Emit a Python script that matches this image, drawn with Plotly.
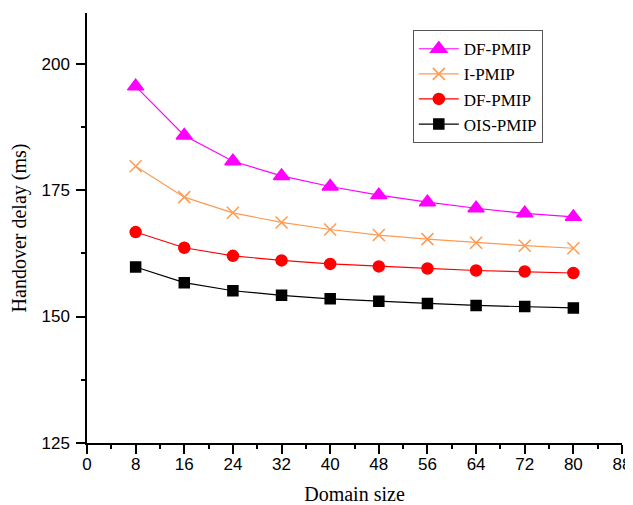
import plotly.graph_objects as go

domain_size = [8, 16, 24, 32, 40, 48, 56, 64, 72, 80]
df_pmip_a = [195.5, 185.8, 180.7, 177.8, 175.7, 174.0, 172.6, 171.4, 170.4, 169.7]
i_pmip = [179.7, 173.6, 170.5, 168.6, 167.2, 166.1, 165.3, 164.6, 164.0, 163.5]
df_pmip_b = [166.7, 163.6, 162.0, 161.1, 160.4, 159.9, 159.5, 159.1, 158.9, 158.6]
ois_pmip = [159.8, 156.7, 155.1, 154.2, 153.5, 153.0, 152.6, 152.2, 152.0, 151.7]

series = [
    ("DF-PMIP", df_pmip_a, "#FF00FF", "triangle-up", 14),
    ("I-PMIP", i_pmip, "#FF9A50", "x-thin", 12),
    ("DF-PMIP", df_pmip_b, "#FF0000", "circle", 11),
    ("OIS-PMIP", ois_pmip, "#000000", "square", 10),
]

fig = go.Figure()
for name, vals, color, sym, size in series:
    fig.add_trace(go.Scatter(
        x=domain_size, y=vals, name=name, mode="lines+markers",
        line=dict(color=color, width=1.2),
        marker=dict(symbol=sym, size=size, color=color,
                    line=dict(color=color, width=1.5)),
    ))

# page body has an 8px default margin, so the figure is shrunk by 8px
fig.update_layout(
    width=625, height=497,
    margin=dict(l=79, r=11, t=5, b=62, autoexpand=False),
    paper_bgcolor="white", plot_bgcolor="white",
    showlegend=True,
    legend=dict(x=0.609, y=0.96, xanchor="left", yanchor="top",
                bgcolor="white", bordercolor="#555555", borderwidth=1,
                font=dict(family="Liberation Serif", size=17, color="black"),
                tracegroupgap=0, itemwidth=40),
    xaxis=dict(range=[0, 88], dtick=8, tick0=0, showgrid=False, zeroline=False,
               automargin=False,
               showline=True, linecolor="black", linewidth=1.5,
               ticks="outside", ticklen=9, tickwidth=1.5, tickcolor="black",
               ticklabelstandoff=-4,
               minor=dict(dtick=4, ticks="outside", ticklen=4, tickwidth=1.5, tickcolor="black"),
               tickfont=dict(family="Liberation Sans", size=17, color="black"),
               title=dict(text="Domain size", font=dict(family="Liberation Serif", size=20, color="black"), standoff=14)),
    yaxis=dict(range=[125, 210], dtick=25, tick0=125, showgrid=False, zeroline=False,
               automargin=False,
               showline=True, linecolor="black", linewidth=1.5,
               ticks="outside", ticklen=9, tickwidth=1.5, tickcolor="black",
               ticklabelstandoff=3,
               minor=dict(dtick=12.5, ticks="outside", ticklen=4, tickwidth=1.5, tickcolor="black"),
               tickfont=dict(family="Liberation Sans", size=17, color="black"),
               title=dict(text="Handover delay (ms)", font=dict(family="Liberation Serif", size=20, color="black"), standoff=10)),
)

fig.write_html("out.html")
